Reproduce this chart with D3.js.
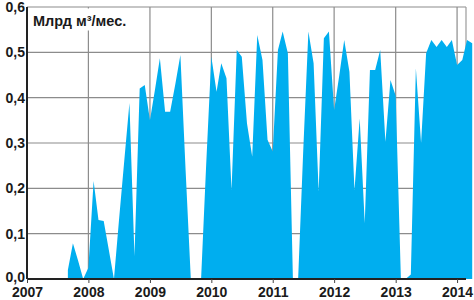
<!DOCTYPE html>
<html>
<head>
<meta charset="utf-8">
<script src="https://cdn.jsdelivr.net/npm/d3@7/dist/d3.min.js"></script>
<style>
  html, body { margin: 0; padding: 0; background: #fff; }
  svg { display: block; }
  text { font-family: "Liberation Sans", Arial, sans-serif; font-weight: bold; fill: #1a1a1a; }
</style>
</head>
<body>
<svg id="chart" width="474" height="300"></svg>
<script>
// ---- data ----
const months = [
  "2007-09","2007-10","2007-11","2007-12",
  "2008-01","2008-02","2008-03","2008-04","2008-05","2008-06","2008-07","2008-08","2008-09","2008-10","2008-11","2008-12",
  "2009-01","2009-02","2009-03","2009-04","2009-05","2009-06","2009-07","2009-08","2009-09","2009-10","2009-11","2009-12",
  "2010-01","2010-02","2010-03","2010-04","2010-05","2010-06","2010-07","2010-08","2010-09","2010-10","2010-11","2010-12",
  "2011-01","2011-02","2011-03","2011-04","2011-05","2011-06","2011-07","2011-08","2011-09","2011-10","2011-11","2011-12",
  "2012-01","2012-02","2012-03","2012-04","2012-05","2012-06","2012-07","2012-08","2012-09","2012-10","2012-11","2012-12",
  "2013-01","2013-02","2013-03","2013-04","2013-05","2013-06","2013-07","2013-08","2013-09","2013-10","2013-11","2013-12",
  "2014-01","2014-02","2014-03","2014-04"
];
const values = [
  0.02, 0.079, 0.04, 0.0,
  0.025, 0.216, 0.13, 0.128, 0.065, 0.0, 0.13, 0.26, 0.388, 0.05, 0.42, 0.428,
  0.35, 0.42, 0.487, 0.369, 0.369, 0.43, 0.494, 0.24, 0.0, 0.0, 0.0, 0.25,
  0.49, 0.413, 0.476, 0.443, 0.196, 0.505, 0.49, 0.343, 0.27, 0.538, 0.483, 0.307,
  0.281, 0.505, 0.546, 0.498, 0.0, 0.0, 0.28, 0.546, 0.476, 0.193, 0.531, 0.546,
  0.373, 0.45, 0.527, 0.457, 0.196, 0.354, 0.123, 0.461, 0.461, 0.505, 0.303, 0.439,
  0.404, 0.0, 0.0, 0.01, 0.465, 0.3, 0.498, 0.527, 0.512, 0.527, 0.512, 0.527,
  0.472, 0.483, 0.527, 0.52
];
const yearTicks = [2007, 2008, 2009, 2010, 2011, 2012, 2013, 2014];
const yTicks = [0, 0.1, 0.2, 0.3, 0.4, 0.5, 0.6];
const unitLabel = "Млрд м³/мес.";

// ---- layout ----
const L = 27, R = 466, T = 7, B = 279;
const svg = d3.select("#chart");
const parse = d3.timeParse("%Y-%m");
const data = months.map((m, i) => ({ date: parse(m), v: values[i] }));

const x = d3.scaleTime()
  .domain([new Date(2007, 0, 1), new Date(2014, 2, 1)])
  .range([L, 467]);
const y = d3.scaleLinear().domain([0, 0.6]).range([B, T]);

svg.append("rect").attr("width", 474).attr("height", 300).attr("fill", "#fff");

svg.append("clipPath").attr("id", "clip")
  .append("rect").attr("x", L).attr("y", 0).attr("width", 474 - L).attr("height", B);

// horizontal grid
svg.append("g").selectAll("line").data(yTicks.filter(d => d > 0)).join("line")
  .attr("x1", L).attr("x2", R)
  .attr("y1", d => y(d)).attr("y2", d => y(d))
  .attr("stroke", "#8c8c8c").attr("stroke-width", 1.2);

// vertical grid
svg.append("g").selectAll("line").data(yearTicks.slice(1)).join("line")
  .attr("x1", d => x(new Date(d, 0, 1))).attr("x2", d => x(new Date(d, 0, 1)))
  .attr("y1", T).attr("y2", B)
  .attr("stroke", "#8c8c8c").attr("stroke-width", 1.2);

// right border
svg.append("line").attr("x1", R).attr("x2", R).attr("y1", T).attr("y2", B)
  .attr("stroke", "#9a9a9a").attr("stroke-width", 1.2);

// title background + text
svg.append("rect").attr("x", L + 2).attr("y", T + 1.5).attr("width", 114).attr("height", 22).attr("fill", "#fff");
svg.append("text").attr("x", 33).attr("y", 26).attr("font-size", 14.5).text(unitLabel);

// area
const area = d3.area()
  .x(d => x(d.date))
  .y0(y(0))
  .y1(d => y(d.v));
svg.append("path").datum(data)
  .attr("clip-path", "url(#clip)")
  .attr("d", area)
  .attr("fill", "#00aeef");

// axes
const xAxis = d3.axisBottom(x)
  .tickValues(yearTicks.map(d => new Date(d, 0, 1)))
  .tickFormat(d3.timeFormat("%Y"))
  .tickSize(4).tickPadding(2);
const gx = svg.append("g").attr("transform", `translate(0,${B})`).call(xAxis);
gx.select(".domain").attr("d", `M${L},0H${R}`).attr("stroke", "#222").attr("stroke-width", 2);
gx.selectAll(".tick line").attr("stroke", "#444");
gx.selectAll(".tick text").attr("font-size", 14).attr("font-family", null).attr("fill", "#1a1a1a")
  .attr("y", 8).attr("dy", "0.74em");

const yAxis = d3.axisLeft(y)
  .tickValues(yTicks)
  .tickFormat(d => d3.format(".1f")(d).replace(".", ","))
  .tickSize(0).tickPadding(2);
const gy = svg.append("g").attr("transform", `translate(${L},0)`).call(yAxis);
gy.select(".domain").attr("d", `M0,${T}V${B}`).attr("stroke", "#222").attr("stroke-width", 2);
gy.selectAll(".tick text").attr("font-size", 14).attr("font-family", null).attr("fill", "#1a1a1a");
gy.selectAll(".tick").filter(d => d === 0).select("text").attr("dy", "0.2em");
</script>
</body>
</html>
